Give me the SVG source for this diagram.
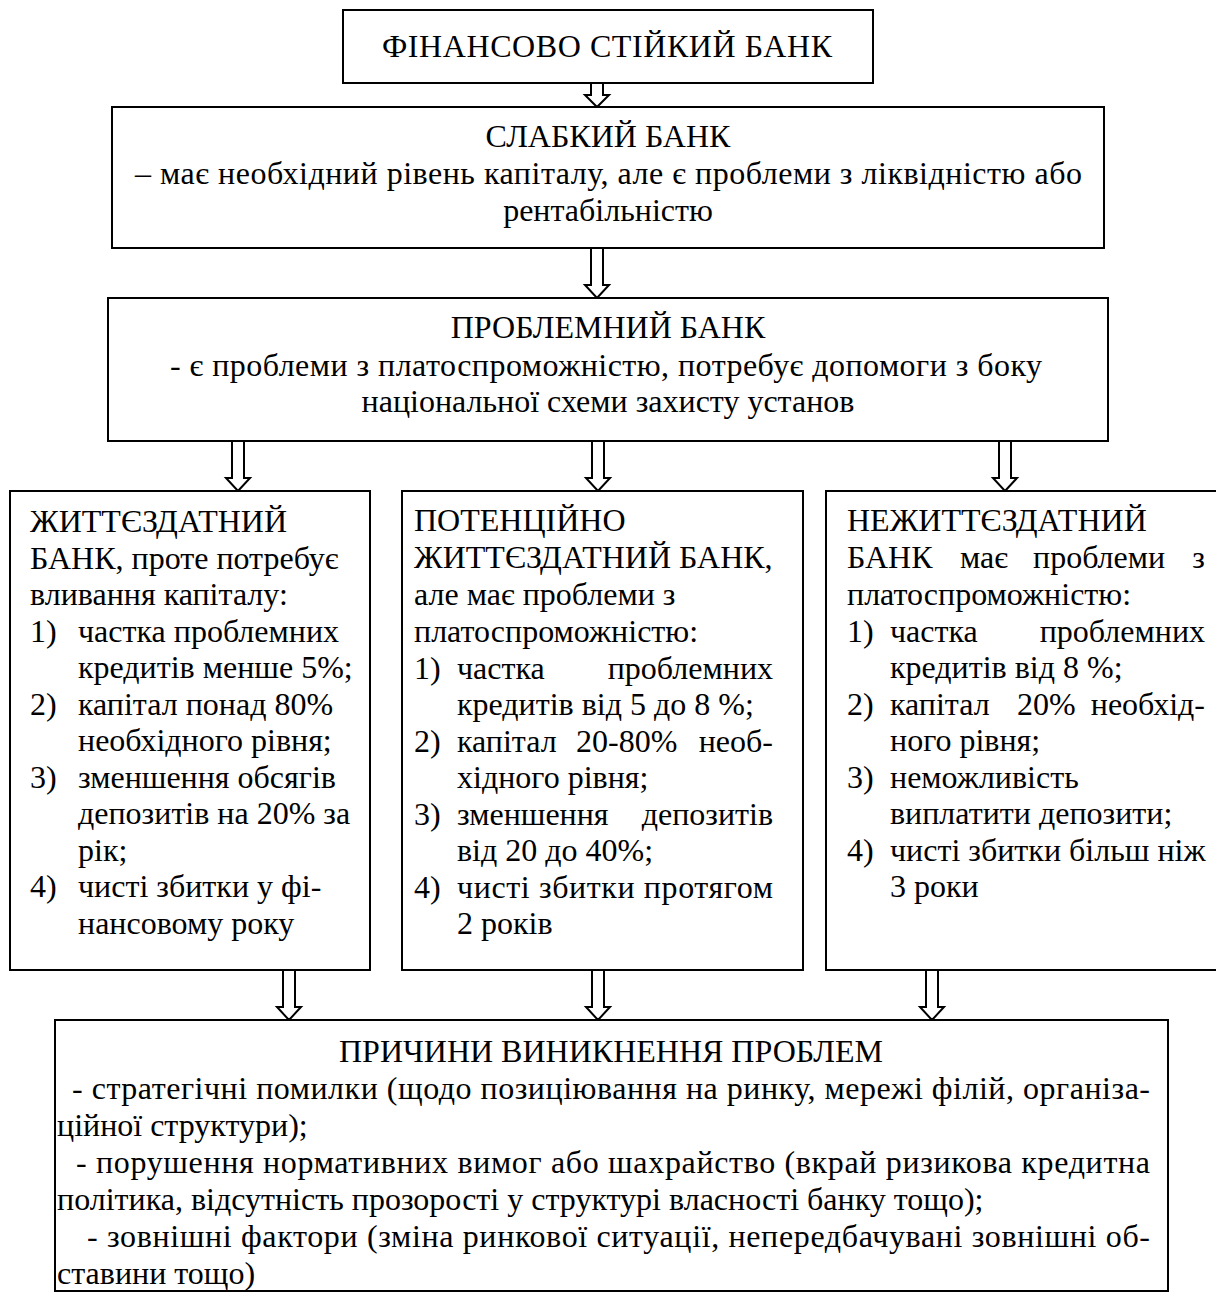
<svg xmlns="http://www.w3.org/2000/svg" width="1216" height="1303" viewBox="0 0 1216 1303" font-family="Liberation Serif, serif">
<style>
.box{fill:#fff;stroke:#000;stroke-width:2}
.arr{fill:#fff;stroke:#000;stroke-width:2;stroke-linejoin:miter}
text{font-family:'Liberation Serif','Times New Roman',serif;font-size:32px;fill:#000}
.c{text-anchor:middle}
.e{text-anchor:end}
</style>
<rect width="1216" height="1303" fill="#fff"/>
<g id="connectors">
<polygon class="arr" points="591,83 603,83 603,95 609,95 597,107 585,95 591,95"/>
<polygon class="arr" points="591,248 603,248 603,285 609,285 597,298 585,285 591,285"/>
<polygon class="arr" points="232,441 244,441 244,478 250,478 238,491 226,478 232,478"/>
<polygon class="arr" points="592,441 604,441 604,478 610,478 598,491 586,478 592,478"/>
<polygon class="arr" points="999,441 1011,441 1011,478 1017,478 1005,491 993,478 999,478"/>
<polygon class="arr" points="283,970 295,970 295,1007 301,1007 289,1020 277,1007 283,1007"/>
<polygon class="arr" points="592,970 604,970 604,1007 610,1007 598,1020 586,1007 592,1007"/>
<polygon class="arr" points="926,970 938,970 938,1007 944,1007 932,1020 920,1007 926,1007"/>
</g>
<g id="node-stable">
<rect class="box" x="343" y="10" width="530" height="73"/>
<text class="c" x="607" y="57" textLength="450" lengthAdjust="spacing">ФІНАНСОВО СТІЙКИЙ БАНК</text>
</g>
<g id="node-weak">
<rect class="box" x="112" y="107" width="992" height="141"/>
<text class="c" x="608" y="147">СЛАБКИЙ БАНК</text>
<text x="135" y="184" textLength="947" lengthAdjust="spacing">– має необхідний рівень капіталу, але є проблеми з ліквідністю або</text>
<text class="c" x="608" y="221">рентабільністю</text>
</g>
<g id="node-problem">
<rect class="box" x="108" y="298" width="1000" height="143"/>
<text class="c" x="608" y="338">ПРОБЛЕМНИЙ БАНК</text>
<text x="170" y="376" textLength="872" lengthAdjust="spacing">- є проблеми з платоспроможністю, потребує допомоги з боку</text>
<text class="c" x="608" y="412">національної схеми захисту установ</text>
</g>
<g id="node-viable">
<rect class="box" x="10" y="491" width="360" height="479"/>
<text x="30" y="532">ЖИТТЄЗДАТНИЙ</text>
<text x="30" y="569">БАНК, проте потребує</text>
<text x="30" y="605">вливання капіталу:</text>
<text x="30" y="642">1)</text><text x="78" y="642">частка проблемних</text>
<text x="78" y="678">кредитів менше 5%;</text>
<text x="30" y="715">2)</text><text x="78" y="715">капітал понад 80%</text>
<text x="78" y="751">необхідного рівня;</text>
<text x="30" y="788">3)</text><text x="78" y="788">зменшення обсягів</text>
<text x="78" y="824">депозитів на 20% за</text>
<text x="78" y="861">рік;</text>
<text x="30" y="897">4)</text><text x="78" y="897">чисті збитки у фі-</text>
<text x="78" y="934">нансовому року</text>
</g>
<g id="node-potential">
<rect class="box" x="402" y="491" width="401" height="479"/>
<text x="414" y="531">ПОТЕНЦІЙНО</text>
<text x="414" y="568">ЖИТТЄЗДАТНИЙ БАНК,</text>
<text x="414" y="605">але має проблеми з</text>
<text x="414" y="642">платоспроможністю:</text>
<text x="414" y="679">1)</text><text x="457" y="679">частка</text><text class="e" x="773" y="679">проблемних</text>
<text x="457" y="715">кредитів від 5 до 8 %;</text>
<text x="414" y="752">2)</text><text x="457" y="752">капітал</text><text x="576" y="752">20-80%</text><text class="e" x="773" y="752">необ-</text>
<text x="457" y="788">хідного рівня;</text>
<text x="414" y="825">3)</text><text x="457" y="825">зменшення</text><text class="e" x="773" y="825">депозитів</text>
<text x="457" y="861">від 20 до 40%;</text>
<text x="414" y="898">4)</text><text x="457" y="898" textLength="316" lengthAdjust="spacing">чисті збитки протягом</text>
<text x="457" y="934">2 років</text>
</g>
<g id="node-nonviable">
<rect class="box" x="826" y="491" width="410" height="479"/>
<text x="847" y="531">НЕЖИТТЄЗДАТНИЙ</text>
<text x="847" y="568">БАНК</text><text x="960" y="568">має</text><text x="1033" y="568">проблеми</text><text class="e" x="1205" y="568">з</text>
<text x="847" y="605">платоспроможністю:</text>
<text x="847" y="642">1)</text><text x="890" y="642">частка</text><text class="e" x="1205" y="642">проблемних</text>
<text x="890" y="678">кредитів від 8 %;</text>
<text x="847" y="715">2)</text><text x="890" y="715">капітал</text><text x="1017" y="715">20%</text><text class="e" x="1205" y="715">необхід-</text>
<text x="890" y="751">ного рівня;</text>
<text x="847" y="788">3)</text><text x="890" y="788">неможливість</text>
<text x="890" y="824">виплатити депозити;</text>
<text x="847" y="861">4)</text><text x="890" y="861">чисті збитки більш ніж</text>
<text x="890" y="897">3 роки</text>
</g>
<g id="node-causes">
<rect class="box" x="55" y="1020" width="1113" height="271"/>
<text class="c" x="611" y="1062">ПРИЧИНИ ВИНИКНЕННЯ ПРОБЛЕМ</text>
<text x="72" y="1099" textLength="1078" lengthAdjust="spacing">- стратегічні помилки (щодо позиціювання на ринку, мережі філій, організа-</text>
<text x="57" y="1136">ційної структури);</text>
<text x="76" y="1173" textLength="1074" lengthAdjust="spacing">-  порушення нормативних вимог або шахрайство (вкрай ризикова кредитна</text>
<text x="57" y="1210">політика, відсутність прозорості у структурі власності банку тощо);</text>
<text x="87" y="1247" textLength="1063" lengthAdjust="spacing">- зовнішні фактори (зміна ринкової ситуації, непередбачувані зовнішні об-</text>
<text x="57" y="1284">ставини тощо)</text>
</g>
</svg>
